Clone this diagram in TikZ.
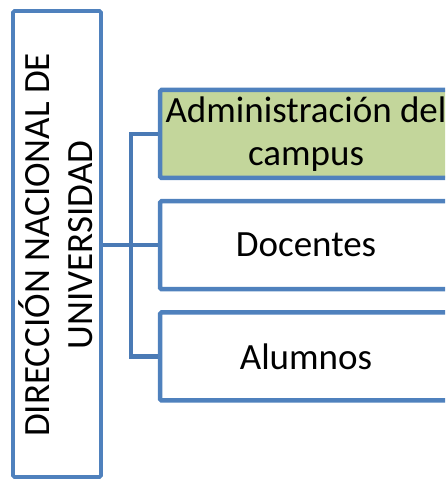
\documentclass[tikz,border=0pt]{standalone}
\usepackage{fontspec}
\setmainfont{Carlito}
\definecolor{bordblue}{HTML}{4F81BD}
\definecolor{connblue}{HTML}{4A7AB5}
\definecolor{greenfill}{HTML}{C3D69B}
\begin{document}
\begin{tikzpicture}[x=1pt,y=1pt,
  lbl/.style={font=\fontsize{37}{43}\selectfont, align=center, text=black},
  unitbox/.style={draw=bordblue, line width=4.5pt, rounded corners=1.5pt, fill=white,
    minimum width=292pt, minimum height=88pt, inner sep=0pt},
  conn/.style={draw=connblue, line width=4.2pt}]
\useasboundingbox (0,0) rectangle (445,479);
\clip (0,0) rectangle (445,479);
\node[draw=bordblue, line width=3.8pt, rounded corners=1.5pt, fill=white,
  minimum width=88pt, minimum height=466pt, inner sep=0pt] (dirbox) at (57,235) {};
\node[lbl, rotate=90] (dir) at (56,234) {DIRECCIÓN NACIONAL DE\\UNIVERSIDAD};
\node[unitbox, fill=greenfill, lbl] (adm) at (306,345) {Administración del\\campus};
\node[unitbox, lbl] (doc) at (306,233.75) {Docentes};
\node[unitbox, lbl] (alu) at (306,122.5) {Alumnos};
\coordinate (j) at (131,233.75);
\draw[conn] (dirbox.east |- doc.west) -- (doc.west);
\draw[conn] (adm.west) -| (j |- alu.west) -- (alu.west);
\end{tikzpicture}
\end{document}
